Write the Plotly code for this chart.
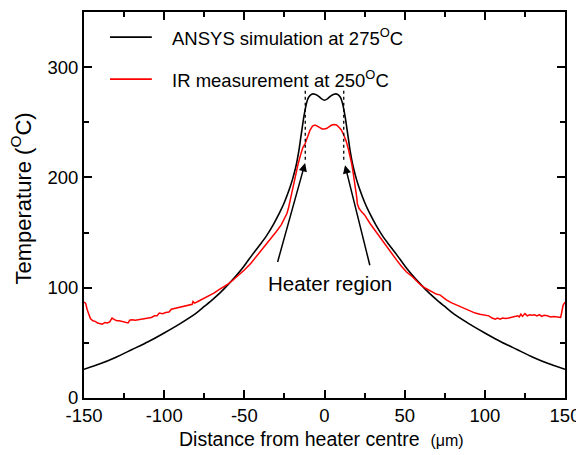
import plotly.graph_objects as go

# ANSYS simulation (black)
ansys_x = [-150, -140, -130, -120, -110, -100, -90, -80, -75, -70, -65, -60, -55, -50, -45, -40, -36, -32, -28, -25,
           -22, -20, -18, -17, -16, -15, -14, -13, -12, -11, -10, -8, -6, -4, -2, 0, 2, 4, 6, 8, 10, 11, 12, 13, 14,
           15, 16, 17, 18, 20, 22, 25, 28, 32, 36, 40, 45, 50, 55, 60, 65, 70, 75, 80, 90, 100, 110, 120, 130, 140, 150]
ansys_y = [26, 31, 37, 44, 51, 59, 67.5, 77, 83, 89, 95.5, 103, 111, 120, 130, 139.5, 147.5, 157, 168, 177.5,
           189, 198, 209, 216, 224, 234, 244, 254, 262, 268.5, 272.5, 275.5, 275.5, 274, 271.5, 270, 271.5, 274, 275.5, 275.5, 272.5, 268.5, 262, 254, 244,
           234, 224, 216, 209, 198, 189, 177.5, 168, 157, 147.5, 139.5, 130, 120, 111, 103, 95.5, 89, 83, 77, 67.5, 59, 51, 44, 37, 31, 26]

# IR measurement (red)
ir_x = [-150, -149, -148, -147, -146, -144.5, -143, -141.5, -140, -138.5, -137, -135.5, -134, -132.5, -131, -129.5,
        -128, -126, -124, -122.5, -121.5, -120, -118, -116, -114, -112, -110, -108, -106, -104.5, -103, -101, -99,
        -97, -95.5, -94, -92, -90, -88, -86, -84, -82.5, -82, -81, -79, -77, -75, -72, -69, -66, -63, -60, -57, -54,
        -50, -46, -42, -38, -34, -30, -27, -25, -23.5, -22.5, -21.5, -20, -18.3, -16.5, -15, -13.5, -12, -10.5, -9,
        -7.5, -6, -4.5, -3, -1.5, 0, 1.5, 3, 4.5, 6, 7.5, 9, 10.5, 12, 13.5, 15, 16, 17, 18, 19, 20, 20.5, 21.5, 23,
        25, 28.5, 32, 36.5, 41, 45, 48, 51, 54, 57, 60, 63, 66, 68, 70, 72, 73.5, 76, 79, 82, 85, 88, 91, 94, 97,
        100, 102.5, 104.5, 106.5, 108, 109.5, 111, 113, 115, 117, 119, 120.5, 121.5, 122.5, 123.5, 125, 126.5, 128,
        129.5, 131, 132.5, 134, 135.5, 137, 139, 141, 143, 145, 147.3, 148, 148.8, 150]
ir_y = [87, 86, 80, 75, 72, 70, 69.5, 68, 67.5, 67, 68.5, 68, 69, 72.5, 71, 70,
        70, 69.5, 69, 68, 70.5, 71, 70.5, 71, 71.5, 72, 72.5, 73, 74.5, 74.5, 77, 76.5, 77.5,
        78, 80.5, 81, 81.5, 82, 82.5, 83.5, 84.5, 85, 87.5, 86, 87.5, 89, 90.5, 92.5, 95, 98, 100.5, 103.5, 107, 110.5,
        116, 122, 129, 137, 143.5, 151, 157, 162, 167, 172, 179, 189, 200, 212, 220, 227, 231, 238, 243,
        246.5, 247.5, 246.5, 245, 244, 244, 244.5, 246, 247.5, 248, 247.5, 245.5, 243, 238.5, 233, 225, 219, 212, 203, 194, 183, 176, 172, 169,
        166, 158, 151, 141, 132, 125, 119.5, 114.5, 111, 106.5, 102.5, 99.5, 97, 95, 94, 93.5, 91.5, 89, 86.5, 84.5, 82.5, 80.5, 78.5, 77, 76,
        75.5, 74.5, 72.5, 71.5, 72.5, 71.5, 72.5, 72, 72.5, 73, 73.5, 74.5, 73.5, 76, 74, 76.5, 74.5, 75.5,
        75, 75.5, 74.5, 75.5, 74, 75, 74.5, 73.5, 74, 73.5, 73, 78, 84, 87]

# Axis ticks
x_tick_vals = [-150, -100, -50, 0, 50, 100, 150]
x_tick_text = ["-150", "-100", "-50", "0", "50", "100", "150"]
y_tick_vals = [0, 100, 200, 300]
y_tick_text = ["0", "100", "200", "300"]

# Heater region markers
heater_edges = [-12, 12]
heater_dot_y = [216, 279]
arrow_tips = [(-12.1, 213), (12.8, 211)]
arrow_tails = [(-29.5, 122), (28.5, 119)]
label_pos = (3.5, 104)

legend_labels = ["ANSYS simulation at 275<sup>O</sup>C", "IR measurement at 250<sup>O</sup>C"]
legend_colors = ["black", "#ff0000"]

FONT = "Arial, 'Liberation Sans', sans-serif"

fig = go.Figure()
fig.add_trace(go.Scatter(x=ansys_x, y=ansys_y, mode="lines",
                         line=dict(color="black", width=1.6, shape="spline", smoothing=0.6),
                         showlegend=False))
fig.add_trace(go.Scatter(x=ir_x, y=ir_y, mode="lines", line=dict(color="#ff0000", width=1.5),
                         showlegend=False))

for xe in heater_edges:
    fig.add_shape(type="line", xref="x", yref="y", x0=xe, x1=xe, y0=heater_dot_y[0], y1=heater_dot_y[1],
                  line=dict(color="black", width=1.3, dash="dot"))

for (tx, ty), (ax, ay) in zip(arrow_tips, arrow_tails):
    fig.add_annotation(x=tx, y=ty, ax=ax, ay=ay, xref="x", yref="y", axref="x", ayref="y",
                       text="", showarrow=True, arrowhead=2, arrowsize=1.1, arrowwidth=1.5,
                       arrowcolor="black", standoff=0, startstandoff=0)

fig.add_annotation(x=label_pos[0], y=label_pos[1], xref="x", yref="y", text="Heater region",
                   showarrow=False, font=dict(size=20.5, color="black", family=FONT))

# manual legend
leg_y = [0.935, 0.826]
for lab, col, ly in zip(legend_labels, legend_colors, leg_y):
    fig.add_shape(type="line", xref="paper", yref="paper", x0=0.054, x1=0.141, y0=ly, y1=ly,
                  line=dict(color=col, width=1.6))
    fig.add_annotation(x=0.179, y=ly, xref="paper", yref="paper", text=lab, showarrow=False,
                       xanchor="left", yanchor="middle", font=dict(size=18.5, color="black", family=FONT))

# axis titles
fig.add_annotation(x=0.493, y=-0.106, xref="paper", yref="paper", showarrow=False,
                   text="Distance from heater centre  <span style='font-size:16px'>(\u03bcm)</span>",
                   xanchor="center", yanchor="middle", font=dict(size=19.5, color="black", family=FONT))
fig.add_annotation(x=-0.130, y=0.518, xref="paper", yref="paper", showarrow=False, textangle=-90,
                   text="Temperature (<sup>O</sup>C)",
                   xanchor="center", yanchor="middle", font=dict(size=22, color="black", family=FONT))

axis_common = dict(showline=True, linecolor="black", linewidth=2, mirror="allticks", ticks="inside",
                   ticklen=8, tickwidth=1.5, tickcolor="black", showgrid=False, zeroline=False,
                   automargin=False, tickmode="array",
                   tickfont=dict(size=18.5, color="black", family=FONT))

fig.update_xaxes(range=[-150, 150], tickvals=x_tick_vals, ticktext=x_tick_text,
                 minor=dict(dtick=25, tick0=0, ticks="inside", ticklen=5, tickwidth=1.5, tickcolor="black",
                            showgrid=False),
                 **axis_common)
fig.update_yaxes(range=[0, 350], tickvals=y_tick_vals, ticktext=y_tick_text,
                 minor=dict(dtick=50, tick0=0, ticks="inside", ticklen=5, tickwidth=1.5, tickcolor="black",
                            showgrid=False),
                 **axis_common)

# page body has an 8px margin, so the figure is sized to fit the 584x455 window
fig.update_layout(width=576, height=447, margin=dict(l=76, r=19, t=4, b=57),
                  plot_bgcolor="white", paper_bgcolor="white", font=dict(family=FONT, color="black"))

fig.write_html("out.html")
